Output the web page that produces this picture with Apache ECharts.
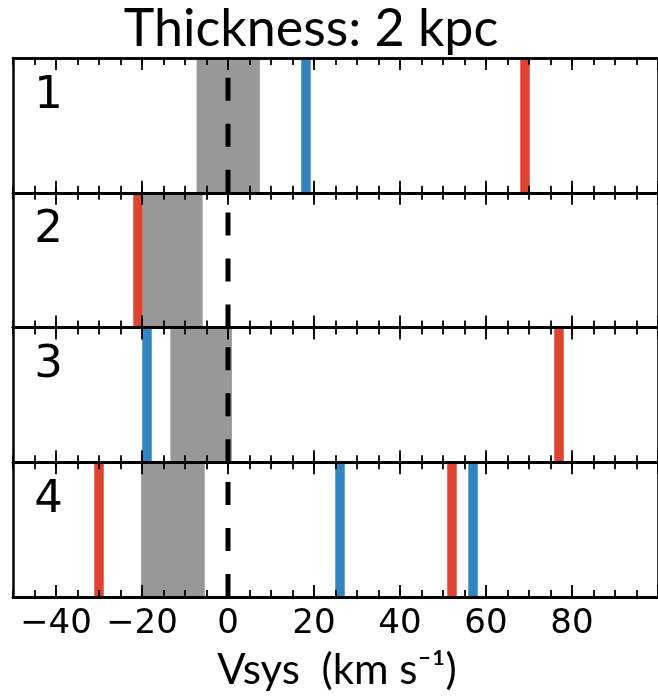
<!DOCTYPE html>
<html>
<head>
<meta charset="utf-8">
<script src="https://cdn.jsdelivr.net/npm/echarts@6/dist/echarts.min.js"></script>
<style>
  html, body { margin: 0; padding: 0; background: #fff; }
  #chart { width: 658px; height: 699px; }
</style>
</head>
<body>
<div id="chart"></div>
<script>
// Panel labels, systemic-velocity bands and absorber velocities (km/s)
const panelNames = ['1', '2', '3', '4'];
const bandLow = [-7.3, -19.8, -13.4, -20.2];
const bandHigh = [7.4, -5.9, 0.9, -5.4];
const redVelocities = [[69], [-21], [77], [-30, 52]];
const blueVelocities = [[18], [], [-19], [26, 57]];
const majorTicks = [-40, -20, 0, 20, 40, 60, 80, 100];
const tickLabels = [-40, -20, 0, 20, 40, 60, 80];
const xMin = -50, xMax = 100;

const RED = '#DF4431', BLUE = '#3184C0', GRAY = '#989898';
const GRID_LEFT = 13, GRID_WIDTH = 648, GRID_TOP = 58, PANEL_H = 134.75;
const BORDER_W = 2.5;

function buildOption() {
  const grids = [], xAxes = [], yAxes = [], series = [], graphics = [];

  // kind: 'major' (long ticks), 'minor' (short ticks every 5), 'labels' (numbers only)
  function xAxisDef(gridIndex, position, kind) {
    const ax = {
      type: 'value', gridIndex, position, min: xMin, max: xMax, z: 5,
      splitLine: { show: false },
      axisLine: { show: true, onZero: false, lineStyle: { color: '#000', width: BORDER_W } },
      axisTick: { show: true, inside: true, length: kind === 'major' ? 12 : 7,
                  lineStyle: { color: '#000', width: 1.8 } },
      axisLabel: { show: false },
      minorTick: { show: false }
    };
    if (kind === 'major') {
      ax.axisTick.customValues = majorTicks;
    } else if (kind === 'minor') {
      ax.interval = 5;
    } else {
      ax.axisTick = { show: false };
      ax.axisLabel = {
        show: true, customValues: tickLabels, margin: 10,
        color: '#000', fontFamily: 'DejaVu Sans', fontSize: 34,
        formatter: v => String(v).replace('-', '\u2212')
      };
    }
    return ax;
  }

  panelNames.forEach((name, i) => {
    const top = GRID_TOP + i * PANEL_H;
    grids.push({ left: GRID_LEFT, width: GRID_WIDTH, top, height: PANEL_H });
    const base = xAxes.length;
    xAxes.push(xAxisDef(i, 'bottom', 'major'));
    xAxes.push(xAxisDef(i, 'bottom', 'minor'));
    xAxes.push(xAxisDef(i, 'top', 'major'));
    xAxes.push(xAxisDef(i, 'top', 'minor'));
    if (i === panelNames.length - 1) xAxes.push(xAxisDef(i, 'bottom', 'labels'));
    const yi = yAxes.length;
    ['left', 'right'].forEach(pos => yAxes.push({
      type: 'value', gridIndex: i, position: pos, min: 0, max: 1, z: 5,
      axisLine: { show: true, onZero: false, lineStyle: { color: '#000', width: BORDER_W } },
      axisTick: { show: false }, axisLabel: { show: false }, splitLine: { show: false }
    }));

    // systemic-velocity band
    series.push({
      type: 'line', xAxisIndex: base, yAxisIndex: yi, data: [], z: 1, silent: true,
      markArea: { silent: true, itemStyle: { color: GRAY, opacity: 1 },
        data: [[{ xAxis: bandLow[i] }, { xAxis: bandHigh[i] }]] }
    });
    // zero-velocity reference, dashed from the bottom up
    series.push({
      type: 'line', xAxisIndex: base, yAxisIndex: yi, z: 3, silent: true,
      symbol: 'none', data: [[0, 0], [0, 1]],
      lineStyle: { color: '#000', width: 5, type: [23, 23] }
    });
    [[redVelocities[i], RED], [blueVelocities[i], BLUE]].forEach(([vals, color]) => {
      series.push({
        type: 'line', xAxisIndex: base, yAxisIndex: yi, data: [], z: 4, silent: true,
        markLine: { silent: true, symbol: ['none', 'none'], label: { show: false },
          lineStyle: { color, width: 9.5, type: 'solid' },
          data: vals.map(v => ({ xAxis: v })) }
      });
    });

    graphics.push({
      type: 'text', x: 48.5, y: top + 38, z: 10,
      style: { text: name, fill: '#000', font: '45px "DejaVu Sans"',
               textAlign: 'center', textVerticalAlign: 'middle' }
    });
  });

  const titles = [
    { text: 'Thickness: 2 kpc', left: 311, top: 3, padding: 0, textAlign: 'center',
      textStyle: { fontFamily: 'Lato', fontSize: 52, fontWeight: 'normal', color: '#000' } },
    { text: 'Vsys  (km s\u207B\u00B9)', left: 337, top: 649, padding: 0, textAlign: 'center',
      textStyle: { fontFamily: 'Lato, "DejaVu Sans"', fontSize: 42, fontWeight: 'normal', color: '#000' } }
  ];

  return {
    animation: false,
    backgroundColor: '#fff',
    title: titles,
    grid: grids,
    xAxis: xAxes,
    yAxis: yAxes,
    series,
    graphic: graphics
  };
}

echarts.init(document.getElementById('chart')).setOption(buildOption());
</script>
</body>
</html>
